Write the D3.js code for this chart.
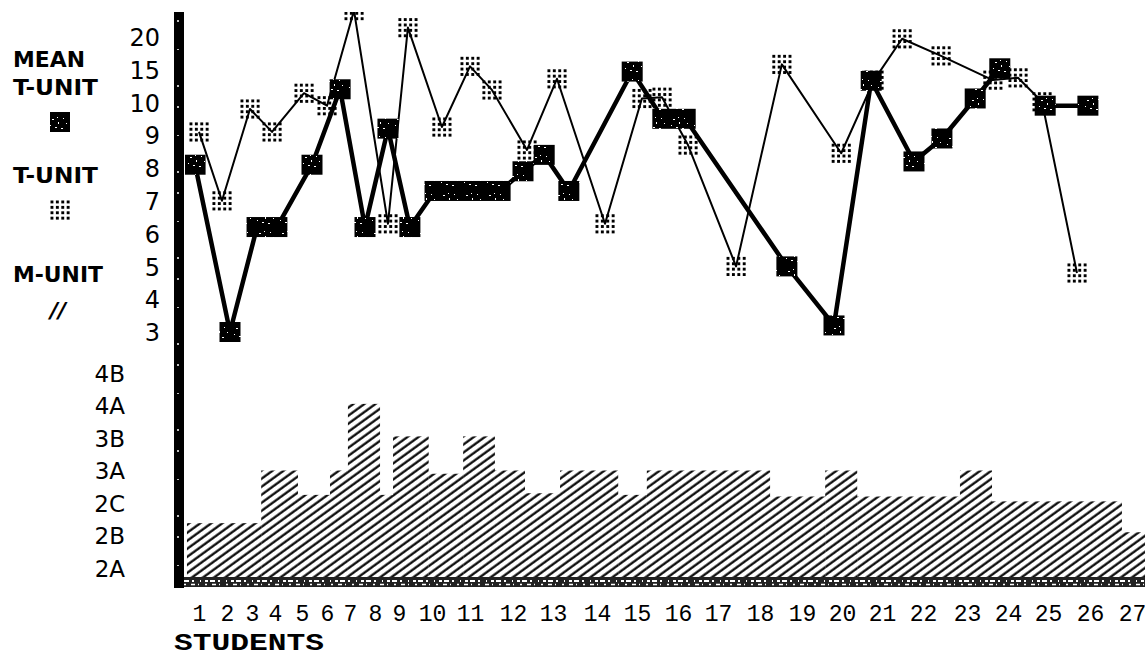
<!DOCTYPE html>
<html>
<head>
<meta charset="utf-8">
<script src="https://cdn.jsdelivr.net/npm/d3@7"></script>
<style>
  html, body { margin: 0; padding: 0; background: #fff; }
  svg { display: block; }
</style>
</head>
<body>
<svg id="chart" width="1145" height="657"></svg>
<script>
// ---------------- DATA ----------------
// students (x tick labels)
const students = d3.range(1, 28);
// upper panel tick labels (non-linear, equally spaced)
const upperTicks = [3, 4, 5, 6, 7, 8, 9, 10, 15, 20];
// lower panel level labels
const mUnitLabels = ["2A", "2B", "2C", "3A", "3B", "4A", "4B"];

// MEAN T-UNIT series (x in student units, y in T-unit value); null = gap
const meanX = [0.86, 2.12, 3.22, 4.07, 5.4, 6.57, 7.6, 8.54, 9.33, 10.08, 10.92, 11.7, 12.25, 12.78, 13.36,
               14.88, 15.63, 16.18, 18.64, 19.8, 20.73, 21.78, 22.43, 23.2, 23.8, null, 24.93, 25.95];
const meanY = [8.1, 3.0, 6.2, 6.2, 8.1, 12, 6.2, 9.2, 6.2, 7.3, 7.3, 7.3, 7.9, 8.4, 7.3,
               14.7, 9.5, 9.5, 5.0, 3.2, 13.3, 8.2, 8.9, 10.6, 15.2, null, 9.9, 9.9];

// T-UNIT series
const tUnitX = [1.0, 1.82, 2.92, 3.87, 5.08, 6.0, 7.16, 8.54, 9.27, 10.26, 11.0, 11.51, 12.35, 13.09,
                14.2, 15.12, 15.61, 16.25, 17.43, 18.52, 19.98, 20.8, 21.49, 22.41, 23.63, 24.25, 24.85, 25.69];
const tUnitY = [9.1, 7.0, 9.8, 9.1, 11.4, 9.9, 24, 6.3, 21.4, 9.25, 15.5, 11.9, 8.55, 13.6,
                6.3, 10.6, 10.8, 8.7, 5.0, 15.8, 8.45, 13.4, 19.7, 17.1, 13.4, 13.75, 10.1, 4.8];

// M-UNIT step bars: boundaries (student units) and level (0 = 2A ... 6 = 4B)
const mUnitBounds = [0.57, 3.4, 4.85, 6.13, 6.91, 8.21, 8.75, 9.9, 10.82, 11.58, 12.3, 13.16, 14.53,
                     15.24, 18.24, 19.58, 20.38, 22.84, 23.61, 26.76, 27.4];
const mUnitLevel = [1.38, 3, 2.25, 3, 5.05, 2.25, 4.05, 2.9, 4.05, 3, 2.3, 3, 2.25, 3, 2.2, 3, 2.2, 3, 2.05, 1.1];

// ---------------- LAYOUT ----------------
const W = 1145, H = 657;
const tickPx = [199, 227, 252, 275, 302, 327, 350, 375, 399, 432, 470, 513, 553, 597, 637, 678, 718,
                760, 802, 842, 882, 923, 967, 1008, 1048, 1090, 1132];
const x = d3.scaleLinear().domain(students).range(tickPx);
const yU = d3.scaleLinear().domain(upperTicks).range(upperTicks.map((d, i) => 332 - i * 32.8));
const yL = d3.scaleLinear().domain([0, 6]).range([568, 373]);
const baseY = 581;

const svg = d3.select("#chart");
const defs = svg.append("defs");

// hatch pattern
const hatch = defs.append("pattern")
  .attr("id", "hatch").attr("patternUnits", "userSpaceOnUse")
  .attr("width", 6.5).attr("height", 10)
  .attr("patternTransform", "rotate(54)");
hatch.append("rect").attr("x", 0.4).attr("y", 0).attr("width", 2.2).attr("height", 10).attr("fill", "#000");

// speckle pattern for mean markers
const speck = defs.append("pattern")
  .attr("id", "speck").attr("patternUnits", "userSpaceOnUse")
  .attr("width", 23).attr("height", 19);
speck.append("rect").attr("width", 23).attr("height", 19).attr("fill", "#000");
[[6,5,2,1],[12,8,1,2],[9,13,2,1],[17,4,1,1],[4,11,1,1],[15,14,2,1],[20,9,1,1],[11,3,1,1]]
  .forEach(r => speck.append("rect").attr("x", r[0]).attr("y", r[1]).attr("width", r[2]).attr("height", r[3]).attr("fill", "#fff"));

defs.append("clipPath").attr("id", "clipU")
  .append("rect").attr("x", 185).attr("y", 12).attr("width", W - 185).attr("height", 350);
defs.append("clipPath").attr("id", "clipL")
  .append("rect").attr("x", 184).attr("y", 340).attr("width", W - 184).attr("height", 300);

// ---------------- LEGEND ----------------
const lg = svg.append("g").attr("font-family", "'DejaVu Sans', sans-serif").attr("font-weight", "bold")
  .attr("font-size", 21).attr("fill", "#000");
lg.append("text").attr("x", 13).attr("y", 67).attr("textLength", 72).attr("lengthAdjust", "spacingAndGlyphs").text("MEAN");
lg.append("text").attr("x", 13).attr("y", 95).attr("textLength", 85).attr("lengthAdjust", "spacingAndGlyphs").text("T-UNIT");
lg.append("text").attr("x", 13).attr("y", 183).attr("textLength", 85).attr("lengthAdjust", "spacingAndGlyphs").text("T-UNIT");
lg.append("text").attr("x", 13).attr("y", 282).attr("textLength", 90).attr("lengthAdjust", "spacingAndGlyphs").text("M-UNIT");
lg.append("text").attr("x", 50).attr("y", 318).attr("font-size", 22).attr("font-style", "italic").text("//");
svg.append("rect").attr("x", 50).attr("y", 112).attr("width", 20).attr("height", 20).attr("fill", "url(#speck)");

function dots(g, cx, cy) {
  for (let i = 0; i < 4; i++) for (let j = 0; j < 4; j++) {
    g.append("rect").attr("x", cx - 9.5 + i * 5.4).attr("y", cy - 9.5 + j * 5.4)
      .attr("width", 2.9).attr("height", 2.9).attr("fill", "#000");
  }
}
dots(svg.append("g"), 60, 210);

// ---------------- AXES LABELS ----------------
const axU = svg.append("g").attr("transform", "translate(160,0)")
  .call(d3.axisLeft(yU).tickValues(upperTicks).tickSize(0).tickPadding(0));
axU.select(".domain").remove();
axU.selectAll("text").attr("font-family", "'DejaVu Sans', sans-serif").attr("font-size", 24).attr("dy", "0.36em").attr("fill", "#000");

const axL = svg.append("g").attr("transform", "translate(125,0)")
  .call(d3.axisLeft(yL).tickValues(d3.range(7)).tickFormat(i => mUnitLabels[i]).tickSize(0).tickPadding(0));
axL.select(".domain").remove();
axL.selectAll("text").attr("font-family", "'DejaVu Sans', sans-serif").attr("font-size", 23).attr("dy", "0.36em").attr("fill", "#000");

const axX = svg.append("g").attr("transform", "translate(0,621)")
  .call(d3.axisBottom(x).tickValues(students).tickSize(0).tickPadding(0).tickFormat(d3.format("d")));
axX.select(".domain").remove();
axX.selectAll("text").attr("font-family", "'Liberation Mono', monospace").attr("font-size", 23)
  .attr("dy", 0).attr("y", 0).attr("fill", "#000");

svg.append("text").attr("x", 174).attr("y", 650).attr("font-family", "'Liberation Mono', monospace")
  .attr("font-weight", "bold").attr("font-size", 23).attr("textLength", 150).attr("lengthAdjust", "spacingAndGlyphs")
  .text("STUDENTS");

// ---------------- M-UNIT BARS ----------------
const bars = mUnitLevel.map((v, i) => ({ x0: mUnitBounds[i], x1: mUnitBounds[i + 1], v }));
svg.append("g").attr("clip-path", "url(#clipL)").selectAll("rect").data(bars).join("rect")
  .attr("x", d => x(d.x0)).attr("width", d => x(d.x1) - x(d.x0))
  .attr("y", d => yL(d.v)).attr("height", d => baseY - yL(d.v))
  .attr("fill", "url(#hatch)");

// baseline band
svg.append("rect").attr("x", 176).attr("y", 577).attr("width", W - 176).attr("height", 10).attr("fill", "#222");
svg.append("line").attr("x1", 184).attr("x2", W).attr("y1", 581).attr("y2", 581)
  .attr("stroke", "#fff").attr("stroke-width", 2).attr("stroke-dasharray", "5 3 2 6 1 4 3 2");
svg.append("line").attr("x1", 184).attr("x2", W).attr("y1", 584.5).attr("y2", 584.5)
  .attr("stroke", "#fff").attr("stroke-width", 1.5).attr("stroke-dasharray", "2 5 4 3 1 6");

// y axis bar
svg.append("rect").attr("x", 174).attr("y", 12).attr("width", 10).attr("height", 576).attr("fill", "#000");
svg.append("line").attr("x1", 178).attr("x2", 178).attr("y1", 20).attr("y2", 580)
  .attr("stroke", "#fff").attr("stroke-width", 1.5).attr("stroke-dasharray", "2 27 1 35 2 19");

// ---------------- UPPER LINES ----------------
const up = svg.append("g").attr("clip-path", "url(#clipU)");
const tPts = tUnitX.map((v, i) => ({ x: v, y: tUnitY[i] }));
const mPts = meanX.map((v, i) => ({ x: v, y: meanY[i] }));

up.append("path").datum(tPts)
  .attr("d", d3.line().x(d => x(d.x)).y(d => yU(d.y)))
  .attr("fill", "none").attr("stroke", "#000").attr("stroke-width", 2).attr("stroke-linejoin", "round");
tPts.forEach(d => dots(up.append("g"), x(d.x), yU(d.y)));

up.append("path").datum(mPts)
  .attr("d", d3.line().defined(d => d.y != null).x(d => x(d.x)).y(d => yU(d.y)))
  .attr("fill", "none").attr("stroke", "#000").attr("stroke-width", 4.5).attr("stroke-linejoin", "round");

// mean markers: neighbouring equal values merge into one block
const blocks = [];
mPts.forEach(d => {
  if (d.y == null) { blocks.push(null); return; }
  const last = blocks[blocks.length - 1];
  if (last && last.y === d.y && x(d.x) - x(last.x1) < 38) last.x1 = d.x;
  else blocks.push({ x0: d.x, x1: d.x, y: d.y });
});
up.selectAll("rect.mk").data(blocks.filter(b => b)).join("rect").attr("class", "mk")
  .attr("x", d => x(d.x0) - 10.5).attr("width", d => x(d.x1) - x(d.x0) + 21)
  .attr("y", d => yU(d.y) - 10).attr("height", 20)
  .attr("fill", "url(#speck)");
</script>
</body>
</html>
